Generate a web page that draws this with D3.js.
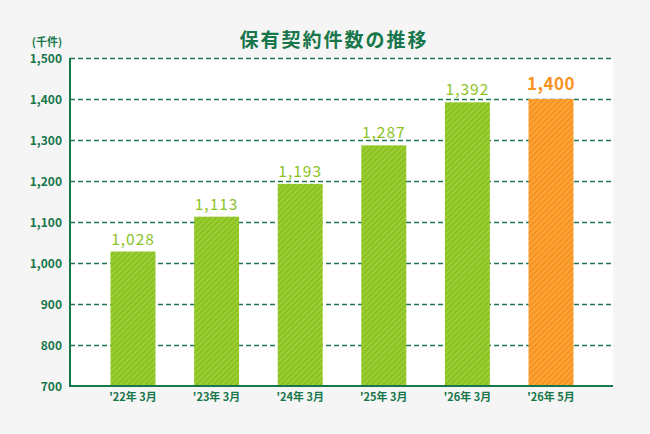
<!DOCTYPE html>
<html><head><meta charset="utf-8">
<script src="https://cdn.jsdelivr.net/npm/d3@7/dist/d3.min.js"></script>
<style>
html,body{margin:0;padding:0;background:#f5f5f5;}
svg{display:block;}
</style></head>
<body>
<script>
const categories = ["'22年 3月","'23年 3月","'24年 3月","'25年 3月","'26年 3月","'26年 5月"];
const values = [1028,1113,1193,1287,1392,1400];
const highlight = [false,false,false,false,false,true];
const yTicks = [700,800,900,1000,1100,1200,1300,1400,1500];
const title = "保有契約件数の推移";
const unitLabel = "(千件)";

const W = 650, H = 434;
const font = "'Noto Sans CJK JP','Noto Sans',sans-serif";
const darkGreen = "#17764a";
const svg = d3.select("body").append("svg").attr("width",W).attr("height",H);

const defs = svg.append("defs");
function hatch(id, base, stripe){
  const p = defs.append("pattern").attr("id",id).attr("patternUnits","userSpaceOnUse")
    .attr("width",4).attr("height",4).attr("patternTransform","rotate(45)");
  p.append("rect").attr("width",4).attr("height",4).attr("fill",base);
  p.append("rect").attr("width",1.6).attr("height",4).attr("fill",stripe);
}
hatch("hg","#8cc21f","#9fd03e");
hatch("ho","#f7931d","#fba844");

const plotL = 70, plotR = 613, plotT = 58, plotB = 386;
svg.append("rect").attr("x",plotL).attr("y",plotT).attr("width",plotR-plotL).attr("height",plotB-plotT).attr("fill","#fff");

const y = d3.scaleLinear().domain([700,1500]).range([plotB,plotT]);
const x = d3.scaleBand().domain(categories).range([91.2,592.8]).paddingInner(0.462).paddingOuter(0.231);

// gridlines
svg.append("g").selectAll("line").data(yTicks.filter(t=>t>700)).join("line")
  .attr("x1",plotL).attr("x2",plotR).attr("y1",d=>Math.round(y(d))+0.5).attr("y2",d=>Math.round(y(d))+0.5)
  .attr("stroke","#1f7650").attr("stroke-width",1.3).attr("stroke-dasharray","5,3");

// y tick labels
svg.append("g").selectAll("text").data(yTicks).join("text")
  .attr("x",62).attr("y",d=>y(d)+4.5).attr("text-anchor","end")
  .attr("font-family",font).attr("font-size",12).attr("font-weight",700)
  .attr("fill",darkGreen).text(d=>d3.format(",")(d));

svg.append("text").attr("x",47).attr("y",46).attr("text-anchor","middle")
  .attr("font-family",font).attr("font-size",11).attr("font-weight",700)
  .attr("fill",darkGreen).text(unitLabel);

// bars
const data = categories.map((c,i)=>({c,v:values[i],h:highlight[i]}));
svg.append("g").selectAll("rect").data(data).join("rect")
  .attr("x",d=>x(d.c)).attr("width",x.bandwidth())
  .attr("y",d=>y(d.v)).attr("height",d=>y(700)-y(d.v))
  .attr("fill",d=>d.h?"url(#ho)":"url(#hg)");

// value labels
svg.append("g").selectAll("text").data(data).join("text")
  .attr("x",d=>x(d.c)+x.bandwidth()/2).attr("y",d=>y(d.v)-(d.h?9:7))
  .attr("text-anchor","middle").attr("font-family",font)
  .attr("font-size",d=>d.h?17:15.5).attr("font-weight",d=>d.h?700:400)
  .attr("letter-spacing",d=>d.h?0.5:1)
  .attr("fill",d=>d.h?"#f7931d":"#8cc21f").text(d=>d3.format(",")(d.v));

// axes lines
svg.append("line").attr("x1",plotL).attr("x2",plotL).attr("y1",plotT).attr("y2",plotB+1)
  .attr("stroke",darkGreen).attr("stroke-width",2);
svg.append("line").attr("x1",plotL-1).attr("x2",plotR).attr("y1",plotB).attr("y2",plotB)
  .attr("stroke",darkGreen).attr("stroke-width",2);

// x labels
svg.append("g").selectAll("text").data(categories).join("text")
  .attr("x",d=>x(d)+x.bandwidth()/2).attr("y",401).attr("text-anchor","middle")
  .attr("font-family",font).attr("font-size",11).attr("font-weight",700)
  .attr("fill",darkGreen).text(d=>d);

// title
svg.append("text").attr("x",334).attr("y",47).attr("text-anchor","middle")
  .attr("font-family",font).attr("font-size",19).attr("font-weight",700)
  .attr("letter-spacing",2).attr("fill",darkGreen).text(title);
</script>
</body></html>
